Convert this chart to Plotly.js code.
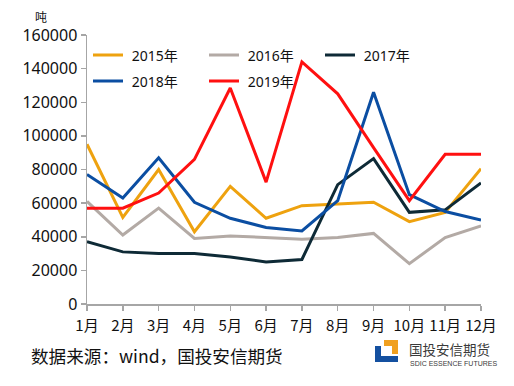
<!DOCTYPE html>
<html><head><meta charset="utf-8">
<script src="https://cdn.plot.ly/plotly-3.0.1.min.js"></script>
<style>html,body{margin:0;padding:0;background:#fff}#c{width:514px;height:386px}</style>
</head><body><div id="c"></div>
<script>
const months = ["1月","2月","3月","4月","5月","6月","7月","8月","9月","10月","11月","12月"];
const s2015 = [95000,51500,80000,43000,70000,51000,58500,59500,60500,49000,54500,80500];
const s2016 = [61000,41000,57000,39000,40500,39500,38500,39500,42000,24000,39500,46500];
const s2017 = [37000,31000,30000,30000,28000,25000,26500,71000,86500,54500,56000,72000];
const s2018 = [77000,63000,87000,60500,51000,45500,43500,61500,126000,65000,55000,50000];
const s2019 = [57000,57000,66000,86000,128500,72500,144000,125000,93000,61500,89000,89000];
const names = ["2015年","2016年","2017年","2018年","2019年"];
const colors = ["#EEA20F","#B3AAA5","#0E2A36","#0B4EA2","#FF1010"];
const series = [s2015,s2016,s2017,s2018,s2019];
const yTicks = [0,20000,40000,60000,80000,100000,120000,140000,160000];

const traces = series.map((s,i)=>({
  x: months, y: s, name: '\u00A0' + names[i], type:'scatter', mode:'lines',
  line:{color:colors[i], width:3}, legend: i < 3 ? 'legend' : 'legend2'
}));

const L=87, R=481, T=35, B=304;
const px = x => (x-L)/(R-L);
const py = y => (B-y)/(B-T);

const legFont = {size:14, color:'#111', family:'"Noto Sans", "Noto Sans CJK SC", sans-serif'};
const legBase = {orientation:'h', xanchor:'left', yanchor:'top', font:legFont,
  entrywidth:71, entrywidthmode:'pixels', bgcolor:'rgba(0,0,0,0)', traceorder:'normal'};

const layout = {
  width:514, height:386,
  margin:{l:L, r:514-R, t:T, b:386-B, pad:0},
  paper_bgcolor:'#fff', plot_bgcolor:'#fff',
  font:{family:'"Noto Sans", "Noto Sans CJK SC", sans-serif', color:'#111'},
  showlegend:true,
  legend: Object.assign({}, legBase, {x:px(88), y:py(39.5)}),
  legend2: Object.assign({}, legBase, {x:px(88), y:py(65.5)}),
  xaxis:{type:'category', range:[0,11], showgrid:false, zeroline:false,
    showline:true, linecolor:'#A6A6A6', linewidth:1.5,
    ticks:'outside', ticklen:5, tickcolor:'#A6A6A6', tickwidth:1.5,
    tickfont:{size:15, family:'"Noto Sans CJK SC", sans-serif', color:'#111'},
    ticklabelstandoff:2, fixedrange:true},
  yaxis:{range:[0,160000], tickvals:yTicks, ticktext:yTicks.map(String),
    showgrid:false, zeroline:false, showline:true, linecolor:'#A6A6A6', linewidth:1.5,
    ticks:'outside', ticklen:5, tickcolor:'#A6A6A6', tickwidth:1.5,
    tickfont:{size:16, family:'"Noto Sans", sans-serif', color:'#111'}, fixedrange:true},
  annotations:[
    {text:'吨', xref:'paper', yref:'paper', x:px(33), y:py(16), xanchor:'left', yanchor:'middle',
     showarrow:false, font:{size:12, family:'"Noto Sans CJK SC"', color:'#111'}},
    {text:'数据来源：wind，国投安信期货', xref:'paper', yref:'paper', x:px(29), y:py(355),
     xanchor:'left', yanchor:'middle', showarrow:false,
     font:{size:17.6, family:'"Noto Sans CJK SC"', color:'#111'}},
    {text:'国投安信期货', xref:'paper', yref:'paper', x:px(407), y:py(349),
     xanchor:'left', yanchor:'middle', showarrow:false,
     font:{size:13.5, family:'"Noto Sans CJK SC"', color:'#3a3a3a'}},
    {text:'SDIC ESSENCE FUTURES', xref:'paper', yref:'paper', x:px(408), y:py(363.5),
     xanchor:'left', yanchor:'middle', showarrow:false,
     font:{size:7, family:'"Liberation Sans Narrow", "Liberation Sans", sans-serif', color:'#3a3a3a'}}
  ],
  shapes:[
    {type:'path', xref:'paper', yref:'paper', fillcolor:'#1450A0', line:{width:0},
     path:`M${px(375)},${py(346)} L${px(381)},${py(346)} L${px(381)},${py(356)} L${px(398)},${py(356)} L${px(398)},${py(362)} L${px(375)},${py(362)} Z`},
    {type:'path', xref:'paper', yref:'paper', fillcolor:'#F0A020', line:{width:0},
     path:`M${px(384)},${py(340)} L${px(398)},${py(340)} L${px(398)},${py(354)} L${px(392)},${py(354)} L${px(392)},${py(346)} L${px(384)},${py(346)} Z`}
  ]
};
Plotly.newPlot('c', traces, layout, {displayModeBar:false, staticPlot:true});
</script></body></html>
